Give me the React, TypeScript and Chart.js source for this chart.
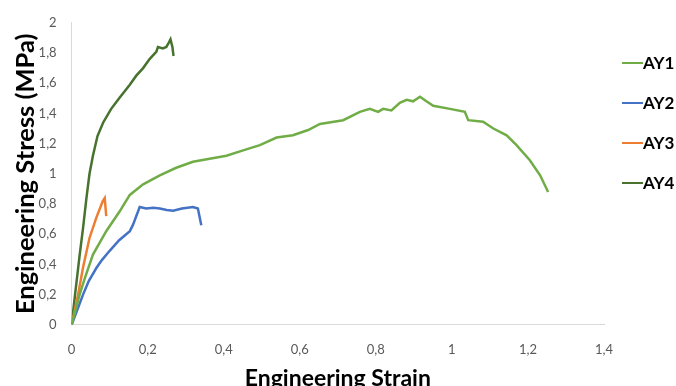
import React, { useEffect, useRef } from "react";
import { Chart, registerables } from "chart.js";

Chart.register(...registerables);

const seriesNames = ["AY1", "AY2", "AY3", "AY4"];
const seriesColors = ["#70ad47", "#4472c4", "#ed7d31", "#47732f"];

const ay1Strain = [0, 0.021, 0.035, 0.056, 0.091, 0.126, 0.153, 0.188, 0.232, 0.275, 0.319, 0.363, 0.407, 0.451, 0.495, 0.539, 0.582, 0.622, 0.653, 0.714, 0.758, 0.784, 0.806, 0.819, 0.841, 0.863, 0.881, 0.898, 0.916, 0.933, 0.951, 0.995, 1.034, 1.043, 1.082, 1.109, 1.144, 1.17, 1.205, 1.232, 1.253];
const ay1Stress = [0, 0.2, 0.31, 0.465, 0.62, 0.75, 0.86, 0.93, 0.99, 1.04, 1.08, 1.1, 1.12, 1.155, 1.19, 1.24, 1.255, 1.29, 1.33, 1.355, 1.41, 1.43, 1.41, 1.43, 1.42, 1.47, 1.49, 1.48, 1.51, 1.48, 1.45, 1.43, 1.41, 1.355, 1.345, 1.3, 1.255, 1.19, 1.09, 0.99, 0.88];

const ay2Strain = [0, 0.015, 0.03, 0.045, 0.065, 0.08, 0.1, 0.125, 0.153, 0.161, 0.179, 0.196, 0.215, 0.232, 0.25, 0.267, 0.29, 0.319, 0.332, 0.341];
const ay2Stress = [0, 0.1, 0.2, 0.29, 0.376, 0.43, 0.49, 0.56, 0.62, 0.66, 0.78, 0.77, 0.775, 0.77, 0.76, 0.755, 0.77, 0.78, 0.77, 0.66];

const ay3Strain = [0, 0.017, 0.03, 0.047, 0.065, 0.082, 0.087, 0.091];
const ay3Stress = [0, 0.2, 0.38, 0.575, 0.71, 0.82, 0.84, 0.72];

const ay4Strain = [0, 0.009, 0.021, 0.03, 0.039, 0.047, 0.056, 0.068, 0.083, 0.104, 0.125, 0.153, 0.17, 0.188, 0.205, 0.223, 0.227, 0.24, 0.249, 0.256, 0.26, 0.265, 0.268];
const ay4Stress = [0, 0.2, 0.46, 0.64, 0.84, 1.0, 1.12, 1.25, 1.34, 1.43, 1.5, 1.59, 1.65, 1.7, 1.76, 1.81, 1.84, 1.83, 1.84, 1.87, 1.89, 1.84, 1.78];

const strainSeries = [ay1Strain, ay2Strain, ay3Strain, ay4Strain];
const stressSeries = [ay1Stress, ay2Stress, ay3Stress, ay4Stress];

const xTickLabels = ["0", "0,2", "0,4", "0,6", "0,8", "1", "1,2", "1,4"];
const yTickLabels = ["0", "0,2", "0,4", "0,6", "0,8", "1", "1,2", "1,4", "1,6", "1,8", "2"];

const FONT = "Lato, 'Open Sans', sans-serif";

const sideLegend = {
  id: "sideLegend",
  afterDraw(chart: any) {
    const ctx = chart.ctx;
    ctx.save();
    chart.data.datasets.forEach((ds: any, i: number) => {
      const y = 63 + i * 40;
      ctx.strokeStyle = ds.borderColor;
      ctx.lineWidth = 2;
      ctx.beginPath();
      ctx.moveTo(622, y);
      ctx.lineTo(643, y);
      ctx.stroke();
      ctx.fillStyle = "#000";
      ctx.font = `bold 17px ${FONT}`;
      ctx.textAlign = "left";
      ctx.textBaseline = "middle";
      ctx.fillText(ds.label, 643, y + 1);
    });
    ctx.restore();
  },
};

export default function App() {
  const ref = useRef<HTMLCanvasElement | null>(null);

  useEffect(() => {
    if (!ref.current) return;
    const datasets = seriesNames.map((name, i) => ({
      label: name,
      data: strainSeries[i].map((x, j) => ({ x, y: stressSeries[i][j] })),
      borderColor: seriesColors[i],
      backgroundColor: seriesColors[i],
      borderWidth: 2.5,
      pointRadius: 0,
      showLine: true,
      tension: 0,
    }));
    const chart = new Chart(ref.current, {
      type: "scatter",
      data: { datasets },
      plugins: [sideLegend],
      options: {
        animation: false,
        responsive: true,
        maintainAspectRatio: false,
        layout: { padding: { top: 12, right: 72, left: 10, bottom: -6 } },
        plugins: {
          tooltip: { enabled: false },
          legend: { display: false },
        },
        scales: {
          x: {
            type: "linear",
            min: 0,
            max: 1.4,
            border: { display: true, color: "#d9d9d9", width: 1 },
            grid: { display: false, drawTicks: false },
            ticks: {
              stepSize: 0.2,
              padding: 17,
              color: "#595959",
              font: { family: FONT, size: 13 },
              callback: (v: any) => xTickLabels[Math.round(Number(v) / 0.2)] ?? "",
            },
            title: {
              display: true,
              text: "Engineering Strain",
              color: "#000",
              font: { family: FONT, size: 23, weight: "bold" },
              padding: { top: -10, bottom: 0 },
            },
          },
          y: {
            type: "linear",
            min: 0,
            max: 2,
            border: { display: true, color: "#d9d9d9", width: 1 },
            grid: { display: false, drawTicks: false },
            ticks: {
              stepSize: 0.2,
              padding: 15,
              color: "#595959",
              font: { family: FONT, size: 13 },
              callback: (v: any) => yTickLabels[Math.round(Number(v) / 0.2)] ?? "",
            },
            title: {
              display: true,
              text: "Engineering Stress (MPa)",
              color: "#000",
              font: { family: FONT, size: 25.5, weight: "bold" },
              padding: { top: 0, bottom: -17 },
            },
          },
        },
      },
    });
    return () => chart.destroy();
  }, []);

  return (
    <div style={{ position: "fixed", left: 0, top: 0, width: 676, height: 386, background: "#fff" }}>
      <canvas ref={ref} />
    </div>
  );
}
